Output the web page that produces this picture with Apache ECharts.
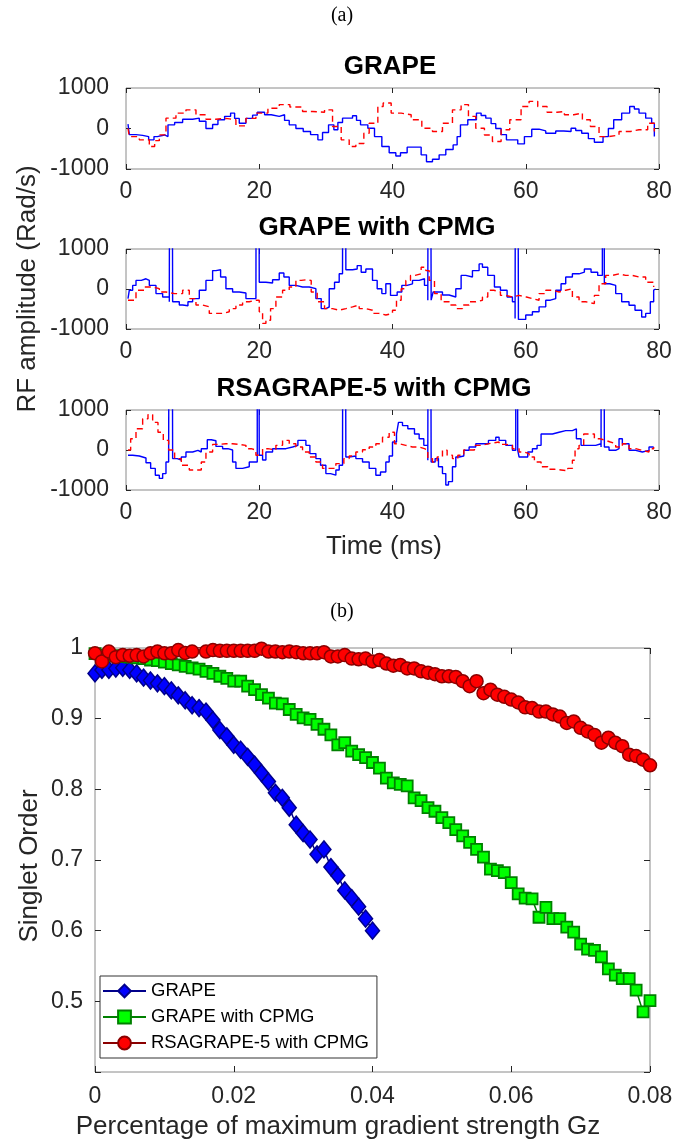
<!DOCTYPE html>
<html>
<head>
<meta charset="utf-8">
<script src="https://cdn.jsdelivr.net/npm/echarts@6/dist/echarts.min.js"></script>
<style>html,body{margin:0;padding:0;background:#fff}#c{width:685px;height:1142px}</style>
</head>
<body>
<div id="c"></div>
<script>
// ---------- (a) RF waveforms: [time ms, amplitude rad/s] ----------
const grapeBlue = [[0.3,107],[0.5,-150],[1.5,-170],[2.5,-200],[3.4,-280],[4.2,-200],[4.7,-160],[5.8,-200],[6.3,90],[7.3,150],[8.5,230],[10,256],[11,180],[12,0],[13,100],[13.8,215],[14.8,300],[15.7,380],[16.3,250],[17,130],[18,250],[19,330],[19.7,400],[20.8,340],[21.8,300],[23,340],[23.8,200],[24.5,90],[25.5,0],[26.6,-75],[27.7,-150],[28.8,-280],[29.5,-100],[30.4,90],[31.2,-30],[31.8,150],[32.5,256],[34,314],[34.6,200],[35.2,90],[36.3,8],[37.3,-200],[38.4,-446],[39.5,-600],[40.5,-680],[41.2,-600],[42.2,-460],[43.5,-460],[44.3,-650],[45.1,-820],[46,-760],[47,-650],[48,-520],[49.1,-405],[49.7,-200],[50.2,90],[51.3,215],[52.6,380],[53.3,320],[54,256],[54.8,120],[55.5,0],[56.3,-150],[57.1,-280],[58.8,-380],[59.8,-200],[60.9,-17],[62,-60],[63,-116],[64.5,-60],[65.7,-75],[66.8,8],[67.5,-50],[68.4,-116],[69.4,-250],[70.3,-340],[71.6,-200],[72.4,0],[73.2,215],[74.4,380],[75.6,545],[76.3,480],[77,380],[78,256],[78.9,130],[79.3,-200]];
const grapeRed = [[0.3,0],[0.5,-200],[2,-280],[3.5,-446],[4.3,-300],[5,-157],[6,256],[7.5,380],[9,460],[10.5,340],[12,230],[13.5,250],[15,215],[16.5,66],[18,250],[19.5,380],[21.3,500],[23,590],[24.6,530],[26.5,420],[28,400],[29.8,460],[31,50],[32.3,-280],[33.5,-446],[34.5,-370],[35.7,-116],[36.5,130],[37.8,545],[38.6,630],[39.8,380],[41.3,340],[42.8,215],[44.4,8],[46,-75],[47.5,130],[49,460],[50.3,590],[51.4,300],[52.5,8],[53.8,-160],[55,-320],[56.3,-30],[57.6,215],[59.3,545],[60.5,670],[61.8,545],[63.2,400],[64.7,420],[65.8,340],[67.2,380],[68.5,215],[69.7,50],[71,-200],[72.5,-160],[74,-75],[75.7,-30],[77,-30],[78.3,130],[79.3,-75]];

const cpmgBlue = [[0.3,-240],[0.5,-30],[1,90],[1.5,215],[2.3,256],[3,215],[3.5,90],[4.5,-115],[5.5,-200],[6.5,-320],[6.7,20000],[7.0,-320],[8,-400],[8.5,-420],[9.3,-320],[10,-240],[11,-30],[12,215],[13,460],[13.5,480],[14.2,300],[15,8],[16,-75],[17,-100],[18,-240],[19,-240],[19.5,-160],[19.7,20000],[20.0,170],[21,150],[22,230],[23,400],[23.7,300],[24.5,90],[25.5,50],[26.5,50],[27.5,8],[28.5,-240],[29.3,-490],[30,-450],[30.5,8],[31.3,170],[32,380],[32.5,480],[32.7,20000],[33.0,480],[34,500],[34.7,585],[35.3,420],[36,500],[37,215],[37.7,8],[38.4,-115],[39,130],[39.7,-160],[40.7,-75],[41.4,90],[42.2,130],[43,215],[44,256],[44.8,90],[45.3,-280],[45.5,20000],[45.8,-280],[46.1,-75],[47.5,-150],[48.5,-200],[49.5,8],[50.3,340],[51,300],[52,460],[53,628],[53.5,545],[54.3,340],[55.3,50],[56.2,-30],[57.2,-200],[58,-320],[58.4,-735],[58.6,20000],[58.9,-760],[60,-650],[61,-570],[62,-446],[63,-280],[63.7,-240],[64.5,-30],[65.3,130],[66,300],[67,380],[68,420],[68.8,500],[69.8,420],[70.8,340],[71.5,20000],[71.8,130],[72.6,90],[73.5,-115],[74.4,-320],[75.5,-405],[76.4,-530],[77.4,-700],[78,-610],[78.7,-320],[79.2,-30],[79.5,0]];
const cpmgRed = [[0.3,-280],[1.5,-30],[2.8,50],[4,8],[5,-75],[6,-115],[7.3,-115],[8.5,-30],[9.5,-240],[10.5,-400],[11.5,-446],[12.5,-610],[13.5,-610],[14.5,-570],[15.5,-490],[16.5,-400],[17.5,-320],[18.5,-280],[19.5,-280],[20,-570],[20.5,-860],[21,-780],[21.7,-490],[22.5,-200],[23.5,-30],[24.5,50],[25.5,215],[26.3,230],[27,215],[27.8,-75],[28.7,-320],[29.8,-490],[31,-530],[32,-490],[33,-446],[34,-400],[35,-490],[36,-530],[37,-610],[38,-650],[39,-610],[40,-530],[40.6,-280],[41.3,8],[42,215],[42.7,340],[43.4,380],[44.3,545],[45,460],[45.5,215],[46.3,-115],[47.3,-320],[48.5,-400],[49.5,-490],[50.5,-400],[51.5,-320],[52.5,-280],[53.5,-200],[54.3,-30],[55.2,-75],[56.2,-160],[57,-200],[58,-160],[59,-200],[60.1,-240],[61,-280],[62,-115],[63,-30],[64,-75],[65,-30],[66,8],[67,-200],[68,-320],[69,-365],[70.3,-160],[71,130],[72,340],[73,380],[74,340],[75,340],[76,300],[77,300],[78,170],[79.2,50]];

const rsaBlue = [[0.3,-130],[1,-150],[2,-200],[3,-320],[3.7,-460],[4.4,-630],[5,-710],[5.5,-590],[6,-300],[6.4,-90],[6.7,20000],[7.0,-215],[7.7,-255],[8.3,-175],[9,-50],[10,-8],[10.8,-50],[11.3,33],[12.2,256],[12.8,230],[13.5,90],[14.5,33],[15.3,0],[16,-300],[16.5,-460],[17.5,-420],[18.5,-300],[19.2,-255],[19.5,-300],[19.7,20000],[20.0,-130],[20.5,-250],[21,-50],[22,33],[23,33],[24,75],[25,116],[25.8,240],[26.5,240],[27,116],[27.6,-90],[28.5,-215],[29.2,-380],[30,-590],[30.7,-630],[31.5,-500],[32,-380],[32.5,-175],[32.7,20000],[33.0,-175],[33.5,-150],[34.5,-215],[35.5,-300],[36.5,-460],[37.5,-630],[38.2,-550],[39,-300],[39.5,-150],[40,200],[40.6,400],[40.9,690],[41.5,610],[42.3,530],[43.3,400],[44,280],[44.7,116],[45.3,-255],[45.5,20000],[45.8,-300],[46.1,-300],[46.4,-215],[46.9,-420],[47.5,-590],[48,-875],[48.4,-790],[49,-420],[49.5,-175],[50,-150],[50.7,-8],[51.5,75],[52.5,157],[53.5,157],[54.4,240],[55.5,320],[56,240],[57,116],[58,-8],[58.5,20000],[58.8,-8],[59,-175],[59.7,-175],[60.3,-50],[61,33],[61.7,116],[62.3,400],[63,400],[64,445],[65,485],[66,485],[67,530],[67.6,280],[68.3,116],[69.5,116],[70.5,157],[71.3,75],[71.5,20000],[71.8,75],[72.5,-8],[73.5,33],[74,280],[74.5,157],[75.5,-8],[76.5,-50],[77.5,-8],[78.5,75],[79.2,90]];
const rsaRed = [[0.3,0],[0.7,280],[1.5,530],[2.5,780],[3.3,885],[4,690],[4.8,445],[5.6,240],[6.4,0],[7.3,-215],[8.3,-380],[9.5,-500],[10.5,-500],[11.3,-300],[12,-50],[13,140],[14,157],[15,157],[16,140],[17,116],[18,33],[18.8,0],[19.5,-130],[20.5,33],[21.3,0],[22.5,116],[23.5,240],[24.5,157],[25.5,75],[26.5,-50],[27.5,-175],[28.5,-300],[29.5,-460],[30.5,-460],[31.5,-340],[32.7,-215],[33.5,-150],[34.5,-50],[35.5,8],[36.5,75],[37.5,157],[38.5,320],[39.5,445],[40.3,157],[41,116],[42,75],[43,75],[44,33],[44.8,0],[45.3,-215],[46,-300],[46.7,-175],[47.5,-8],[48.2,-130],[49,-215],[49.8,-130],[50.7,0],[51.5,0],[52.3,116],[53.2,140],[54,175],[55,200],[56,140],[57,116],[58,33],[59,-50],[59.7,-90],[60.5,-175],[61.3,-300],[62.3,-420],[63.3,-480],[64.3,-500],[65.3,-520],[66.3,-460],[67,-255],[67.4,33],[68,116],[68.7,400],[69.5,400],[70.3,280],[71.2,240],[72,200],[72.7,157],[73.5,75],[74.5,157],[75.5,33],[76.5,-8],[77.5,-50],[78.5,33],[79.2,75]];

const panelTitles = ['GRAPE', 'GRAPE with CPMG', 'RSAGRAPE-5 with CPMG'];

// ---------- (b) singlet order vs gradient ----------
const gradX = [0,0.001,0.002,0.003,0.004,0.005,0.006,0.007,0.008,0.009,0.010,0.011,0.012,0.013,0.014,0.015,0.016,0.017,0.018,0.019,0.020,0.021,0.022,0.023,0.024,0.025,0.026,0.027,0.028,0.029,0.030,0.031,0.032,0.033,0.034,0.035,0.036,0.037,0.038,0.039,0.040,0.041,0.042,0.043,0.044,0.045,0.046,0.047,0.048,0.049,0.050,0.051,0.052,0.053,0.054,0.055,0.056,0.057,0.058,0.059,0.060,0.061,0.062,0.063,0.064,0.065,0.066,0.067,0.068,0.069,0.070,0.071,0.072,0.073,0.074,0.075,0.076,0.077,0.078,0.079,0.080];
const soGrape = [0.964,0.969,0.969,0.971,0.972,0.969,0.964,0.958,0.954,0.950,0.946,0.940,0.933,0.926,0.919,0.915,0.910,0.898,0.884,0.875,0.863,0.856,0.846,0.835,0.823,0.811,0.795,0.788,0.774,0.750,0.738,0.729,0.708,0.715,0.690,0.678,0.657,0.646,0.634,0.617,0.600];
const soGrapeCpmg = [0.992,0.990,0.990,0.989,0.988,0.987,0.986,0.985,0.983,0.982,0.980,0.978,0.976,0.974,0.972,0.970,0.967,0.964,0.960,0.957,0.953,0.953,0.946,0.941,0.934,0.929,0.922,0.921,0.913,0.906,0.901,0.899,0.892,0.885,0.877,0.863,0.866,0.854,0.849,0.845,0.838,0.830,0.816,0.809,0.807,0.805,0.788,0.784,0.774,0.769,0.760,0.753,0.743,0.734,0.725,0.715,0.704,0.687,0.685,0.682,0.668,0.652,0.646,0.645,0.619,0.633,0.617,0.617,0.605,0.598,0.581,0.574,0.572,0.563,0.546,0.537,0.532,0.532,0.516,0.485,0.501];
const soRsa = [0.9925,0.981,0.995,0.987,0.990,0.989,0.990,0.988,0.9925,0.995,0.9925,0.9925,0.997,0.993,0.995,1.002,0.995,0.997,0.996,0.996,0.996,0.996,0.996,0.996,0.999,0.995,0.995,0.994,0.995,0.994,0.9925,0.9925,0.9925,0.994,0.988,0.988,0.990,0.985,0.984,0.985,0.981,0.983,0.978,0.975,0.976,0.971,0.971,0.967,0.965,0.963,0.960,0.960,0.959,0.953,0.946,0.953,0.936,0.941,0.934,0.931,0.927,0.923,0.916,0.915,0.910,0.910,0.906,0.903,0.894,0.896,0.887,0.882,0.877,0.866,0.873,0.866,0.861,0.849,0.847,0.842,0.834];
const legendNames = ['GRAPE', 'GRAPE with CPMG', 'RSAGRAPE-5 with CPMG'];

// ---------- layout ----------
const FONT = "'Liberation Sans', Arial, Helvetica, sans-serif";
const TXT = '#262626';
const BOX = '#8a8a8a';
const topGrids = [{top: 88, h: 81, tx: 390}, {top: 249, h: 80, tx: 377}, {top: 410, h: 80, tx: 374}];
const TL = 126, TW = 533;
const B = {left: 95, top: 648, width: 555, height: 424};

const grids = [], xAxes = [], yAxes = [], series = [];
const tick = {inside: true, length: 5, lineStyle: {color: TXT, width: 1}};
const lbl = {fontSize: 23, color: TXT, fontFamily: FONT};
const noLine = {show: false, onZero: false};

topGrids.forEach((g, i) => {
  grids.push({left: TL, top: g.top, width: TW, height: g.h, show: true, borderColor: BOX, borderWidth: 1, backgroundColor: '#fff'});
  ['bottom', 'top'].forEach(pos => xAxes.push({gridIndex: i, type: 'value', position: pos, min: 0, max: 80, interval: 20,
    axisLine: noLine, axisTick: tick, splitLine: {show: false},
    axisLabel: Object.assign({show: pos === 'bottom', margin: 11, formatter: v => String(v)}, lbl)}));
  ['left', 'right'].forEach(pos => yAxes.push({gridIndex: i, type: 'value', position: pos, min: -1000, max: 1000, interval: 1000,
    axisLine: noLine, axisTick: tick, splitLine: {show: false},
    axisLabel: Object.assign({show: pos === 'left', margin: 17, formatter: v => String(v)}, lbl)}));
});
grids.push({left: B.left, top: B.top, width: B.width, height: B.height, show: true, borderColor: BOX, borderWidth: 1});
['bottom', 'top'].forEach(pos => xAxes.push({gridIndex: 3, type: 'value', position: pos, min: 0, max: 0.08, interval: 0.02,
  axisLine: noLine, axisTick: Object.assign({}, tick, {length: 6}), splitLine: {show: false},
  axisLabel: Object.assign({show: pos === 'bottom', margin: 13, formatter: v => v === 0 ? '0' : (+v.toFixed(2)).toString()}, lbl)}));
['left', 'right'].forEach(pos => yAxes.push({gridIndex: 3, type: 'value', position: pos, min: 0.4, max: 1, interval: 0.1,
  axisLine: noLine, axisTick: Object.assign({}, tick, {length: 6}), splitLine: {show: false},
  axisLabel: Object.assign({show: pos === 'left', margin: 12, formatter: v => v < 0.45 ? '' : (v > 0.999 ? '1' : v.toFixed(1))}, lbl)}));

function rfSeries(data, idx, red) {
  return {type: 'line', data: data, xAxisIndex: idx * 2, yAxisIndex: idx * 2, step: 'end', symbol: 'none', clip: true,
    animation: false, silent: true, z: red ? 3 : 2,
    lineStyle: {color: red ? '#ff0000' : '#0000ff', width: 1.4, type: red ? [6, 4] : 'solid'}};
}
[[grapeBlue, grapeRed], [cpmgBlue, cpmgRed], [rsaBlue, rsaRed]].forEach((p, i) => {
  series.push(rfSeries(p[0], i, false));
  series.push(rfSeries(p[1], i, true));
});

const zip = (ys) => ys.map((y, i) => [gradX[i], y]);
series.push({name: legendNames[0], type: 'line', xAxisIndex: 6, yAxisIndex: 6, data: zip(soGrape), symbol: 'diamond', symbolSize: [14, 17],
  itemStyle: {color: '#0000ff', borderColor: '#00008b', borderWidth: 1.5}, lineStyle: {color: '#00008b', width: 1.5}, z: 3, animation: false});
series.push({name: legendNames[1], type: 'line', xAxisIndex: 6, yAxisIndex: 6, data: zip(soGrapeCpmg), symbol: 'rect', symbolSize: 11,
  itemStyle: {color: '#00ff00', borderColor: '#008000', borderWidth: 1.8}, lineStyle: {color: '#008000', width: 1.5}, z: 4, animation: false});
series.push({name: legendNames[2], type: 'line', xAxisIndex: 6, yAxisIndex: 6, data: zip(soRsa), symbol: 'circle', symbolSize: 13,
  itemStyle: {color: '#ff0000', borderColor: '#8b0000', borderWidth: 1.5}, lineStyle: {color: '#8b0000', width: 1.5}, z: 5, animation: false});

const graphics = [];
function txt(x, y, s, font, rot, color) {
  graphics.push({type: 'text', x: x, y: y, rotation: rot || 0, silent: true,
    style: {text: s, x: 0, y: 0, font: font, fill: color || TXT, align: 'center', verticalAlign: 'middle'}});
}
txt(342, 16, '(a)', "20px 'Liberation Serif', 'Times New Roman', serif", 0, '#000');
txt(342, 612, '(b)', "20px 'Liberation Serif', 'Times New Roman', serif", 0, '#000');
topGrids.forEach((g, i) => txt(g.tx, g.top - 21, panelTitles[i], "bold 26px " + FONT, 0, '#000'));
txt(384, 547, 'Time (ms)', "26px " + FONT);
txt(28, 289, 'RF amplitude (Rad/s)', "26px " + FONT, Math.PI / 2);
txt(30, 866, 'Singlet Order', "26px " + FONT, Math.PI / 2);
txt(338, 1127, 'Percentage of maximum gradient strength Gz', "26px " + FONT);

const chart = echarts.init(document.getElementById('c'), null, {renderer: 'canvas'});
chart.setOption({
  animation: false,
  backgroundColor: '#fff',
  grid: grids, xAxis: xAxes, yAxis: yAxes, series: series,
  legend: {data: legendNames, orient: 'vertical', left: 100, top: 976, itemWidth: 43, itemHeight: 16, itemGap: 6,
    padding: [5, 8, 5, 2], borderColor: '#333', borderWidth: 1, backgroundColor: '#fff',
    textStyle: {fontSize: 18.5, lineHeight: 20, color: '#000', fontFamily: FONT}},
  graphic: graphics
});
</script>
</body>
</html>
